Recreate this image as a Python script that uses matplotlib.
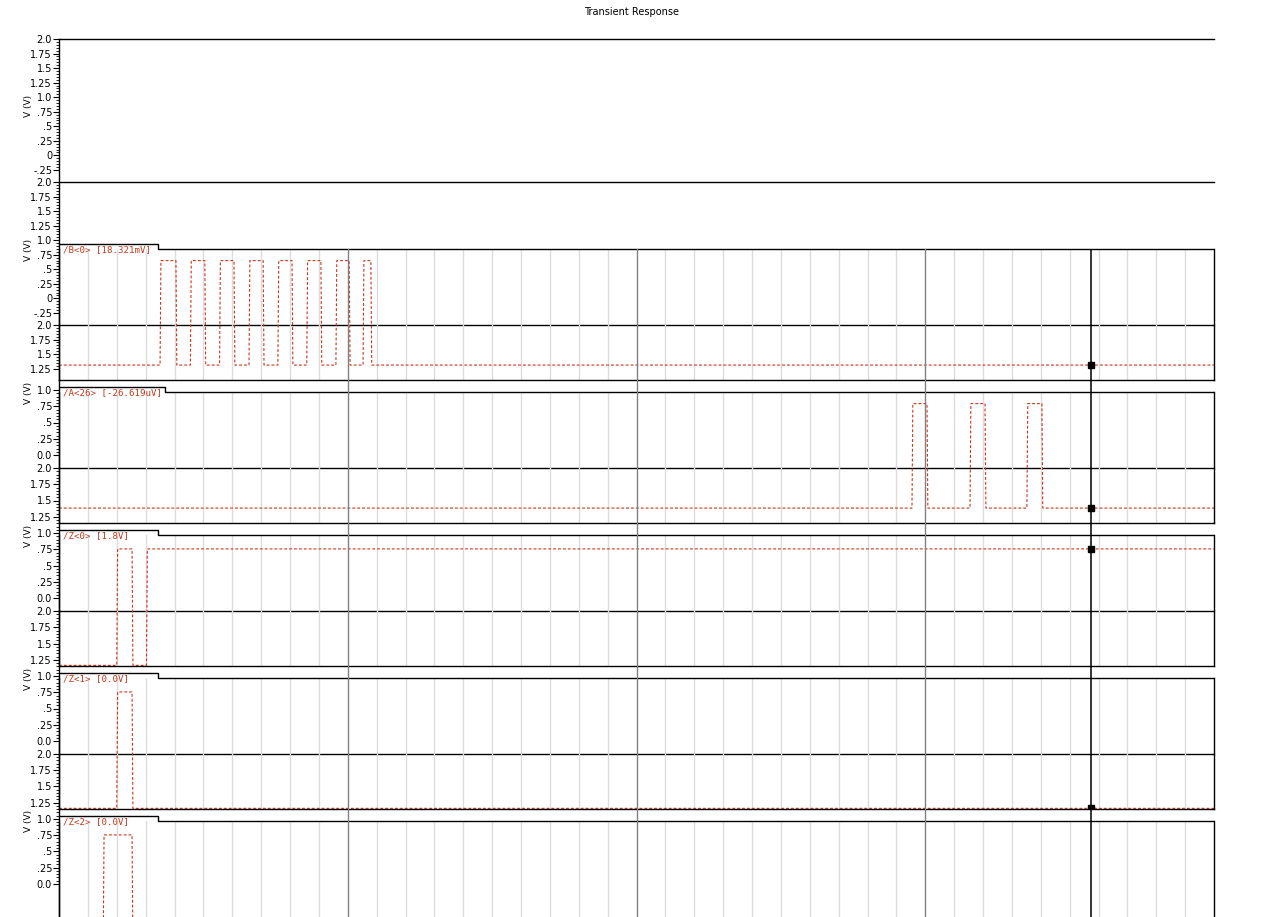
import numpy as np
import matplotlib.pyplot as plt

W, H = 1269, 917
X0, X1 = 59, 1214  # left / right edge of the plot area (px)

# time axis (ns) and grid
t_min, t_max = 0.0, 40.0
major_t = [10, 20, 30]
minor_t = [1, 2, 3, 4, 5, 6, 7, 8, 9, 11, 12, 13, 14, 15, 16, 17, 18, 19,
           21, 22, 23, 24, 25, 26, 27, 28, 29, 31, 32, 33, 34, 35, 36, 37, 38, 39]
cursor_t = 35.74

# edge times (ns)
b0_rise = [3.50, 4.55, 5.56, 6.58, 7.58, 8.58, 9.59, 10.53]
b0_fall = [4.05, 5.05, 6.06, 7.07, 8.07, 9.07, 10.05, 10.80]
a26_rise = [29.54, 31.55, 33.52]
a26_fall = [30.06, 32.07, 34.04]
z0_rise, z0_fall = [2.00, 3.03], [2.53]
z1_rise, z1_fall = [2.00], [2.53]
z2_rise, z2_fall = [1.53], [2.53]
v_low, v_high = 0.0, 1.8

labels = ['/B<0> [18.321mV]', '/A<26> [-26.619uV]', '/Z<0> [1.8V]',
          '/Z<1> [0.0V]', '/Z<2> [0.0V]']

old_ticks = [2.0, 1.75, 1.5, 1.25, 1.0, 0.75, 0.5, 0.25, 0.0, -0.25]
old_ticklabels = ['2.0', '1.75', '1.5', '1.25', '1.0', '.75', '.5', '.25', '0', '-.25']
new_ticks = [2.0, 1.75, 1.5, 1.25, 1.0, 0.75, 0.5, 0.25, 0.0]
new_ticklabels = ['2.0', '1.75', '1.5', '1.25', '1.0', '.75', '.5', '.25', '0.0']

RED = '#c8381c'
LIGHT = '#dcdcdc'
MID = '#808080'


def rect(top, height):
    return [X0 / W, 1 - (top + height) / H, (X1 - X0) / W, height / H]


def square(rise, fall, tr=0.03):
    edges = sorted([(r, v_low, v_high) for r in rise] + [(f, v_high, v_low) for f in fall])
    t, v = [t_min], [v_low]
    for te, a, b in edges:
        t += [te, te + tr]
        v += [a, b]
    t.append(t_max)
    v.append(v[-1])
    return np.array(t), np.array(v)


fig = plt.figure(figsize=(W / 100, H / 100), dpi=100)
fig.text(632 / W, 1 - 12 / H, 'Transient Response', ha='center', va='center', fontsize=7)

# y-axis panels: (top px, height px, offset px from the 2.0 line, px per volt, ticks, labels, top line)
panels = [
    (39, 143, 0, 58.2, old_ticks, old_ticklabels, True),
    (182, 143, 0, 58.2, old_ticks, old_ticklabels, True),
    (325, 55, 0, 58.2, old_ticks, old_ticklabels, True),
    (380, 88, 55, 65.0, new_ticks, new_ticklabels, False),
    (468, 143, 0, 65.0, new_ticks, new_ticklabels, True),
    (611, 143, 0, 65.0, new_ticks, new_ticklabels, True),
    (754, 170, 0, 65.0, new_ticks, new_ticklabels, True),
]
for top, h, off, ppv, ticks, tlabels, topline in panels:
    ax = fig.add_axes(rect(top, h))
    ax.set_facecolor('none')
    hi = 2.0 - off / ppv
    lo = hi - h / ppv
    ax.set_ylim(lo, hi)
    ax.set_xlim(t_min, t_max)
    keep = [(v, s) for v, s in zip(ticks, tlabels) if lo - 1e-6 <= v <= hi + 1e-6]
    ax.set_yticks([v for v, _ in keep], [s for _, s in keep])
    if keep:
        vmin = min(v for v, _ in keep)
        vmax = max(v for v, _ in keep)
        mnr = np.arange(-0.25, 2.0001, 0.05)
        ax.set_yticks([m for m in mnr if vmin - 1e-6 <= m <= vmax + 1e-6], minor=True)
    ax.set_xticks([])
    ax.tick_params(axis='y', which='major', length=4, width=0.8, pad=1, labelsize=7)
    ax.tick_params(axis='y', which='minor', length=2, width=0.6)
    for s in ['right', 'bottom']:
        ax.spines[s].set_visible(False)
    ax.spines['top'].set_visible(topline)
    ax.spines['top'].set_linewidth(1.0)
    ax.spines['left'].set_linewidth(1.0)

for yl in [106, 250, 393, 536, 679, 821]:
    fig.text(28 / W, 1 - yl / H, 'V (V)', rotation=90, ha='center', va='center', fontsize=6.5)

# signal strips: (label, rise, fall, top px, tab end px, ylim)
strips = [
    (labels[0], b0_rise, b0_fall, 249, 158, (-0.257, 2.0)),
    (labels[1], a26_rise, a26_fall, 392, 165, (-0.257, 2.0)),
    (labels[2], z0_rise, z0_fall, 535, 158, (-0.01, 2.015)),
    (labels[3], z1_rise, z1_fall, 678, 158, (-0.01, 2.015)),
    (labels[4], z2_rise, z2_fall, 821, 158, (-0.01, 2.015)),
]
SH = 131
for name, rise, fall, top, tab_end, ylim in strips:
    ax = fig.add_axes(rect(top, SH))
    ax.set_facecolor('none')
    ax.set_xlim(t_min, t_max)
    ax.set_ylim(*ylim)
    ax.set_xticks(minor_t)
    ax.set_yticks([])
    ax.tick_params(axis='x', length=0, labelbottom=False)
    ax.grid(axis='x', color=LIGHT, lw=1.0)
    ax.spines['top'].set_visible(False)
    for s in ['left', 'right', 'bottom']:
        ax.spines[s].set_linewidth(1.0)
    te = (tab_end - X0) / (X1 - X0)
    th = 5 / SH
    ax.plot([0, te, te, 1], [1 + th, 1 + th, 1, 1], transform=ax.transAxes,
            color='black', lw=1.0, clip_on=False, solid_capstyle='butt')
    ax.text(4 / (X1 - X0), 1 + 4 / SH, name, transform=ax.transAxes, ha='left', va='top',
            fontsize=6.6, family='DejaVu Sans Mono', color=RED)
    t, v = square(rise, fall)
    ax.plot(t, v, color=RED, lw=0.8, ls=(0, (2.6, 1.8)))
    ax.plot([cursor_t], [np.interp(cursor_t, t, v)], 's', color='black', ms=3.8)

# major time lines and cursor, running through the gaps between strips
ov = fig.add_axes(rect(249, H - 249))
ov.set_xlim(t_min, t_max)
ov.set_ylim(0, 1)
ov.axis('off')
for mt in major_t:
    ov.axvline(mt, color=MID, lw=1.0)
ov.axvline(cursor_t, color='black', lw=1.1)

fig.savefig('out.png', dpi=100)
